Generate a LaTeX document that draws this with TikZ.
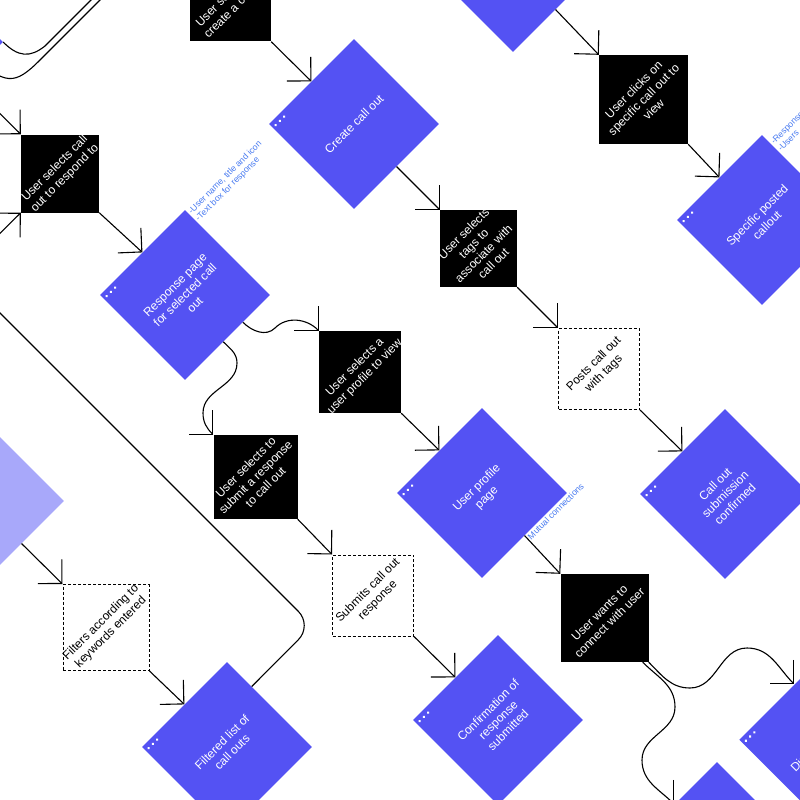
\documentclass[tikz,border=0pt]{standalone}
\usepackage{fontspec}
\setmainfont{Liberation Sans}
\usetikzlibrary{arrows.meta, calc}
\definecolor{scrblue}{RGB}{84,82,243}
\definecolor{paleblue}{RGB}{168,168,250}
\definecolor{noteblue}{RGB}{72,122,240}

\begin{document}
\begin{tikzpicture}[x=1pt, y=1pt,
    >={Straight Barb[length=17pt,width=34pt]},
    flow/.style={->, line width=1.1pt},
    wire/.style={line width=1.1pt},
    screen/.style={rectangle, fill=scrblue, rotate=45, minimum size=120pt, inner sep=0pt, text=white, align=center, font=\fontsize{12}{14}\selectfont},
    choice/.style={rectangle, fill=black, inner sep=0pt},
    outcome/.style={rectangle, draw, dash pattern=on 3pt off 2pt, line width=1pt, inner sep=0pt},
    choicetext/.style={rotate=45, text=white, align=center, font=\fontsize{12}{14}\selectfont},
    outcometext/.style={rotate=45, align=center, font=\fontsize{12}{14}\selectfont},
    note/.style={rotate=45, text=noteblue, align=left, inner sep=1.5pt, font=\fontsize{8.7}{10}\selectfont}]
    \useasboundingbox (0,0) rectangle (800,-800);
    \clip (0,0) rectangle (800,-800);

    \node[screen] (home) at (-82,-42) {};
    \node[screen] (allcalls) at (513,33) {};
    \node[screen] (create) at (354,-124) {Create call out};
    \node[screen] (response) at (185,-295) {Response page\\for selected call\\out};
    \node[screen] (specific) at (762,-220) {Specific posted\\callout};
    \node[screen] (profile) at (482,-493) {User profile\\page};
    \node[screen] (callconfirmed) at (725,-494) {Call out\\submission\\confirmed};
    \node[screen] (responseconfirmed) at (498,-720) {Confirmation of\\response\\submitted};
    \node[screen] (filtered) at (227,-747) {Filtered list of\\call outs};
    \node[screen, fill=paleblue] (search) at (-21,-501) {};
    \node[screen, minimum width=156pt] (dmsg) at (837,-727) {Direct message to user};
    \node[screen] (request) at (717,-847) {};

    \node[choice, minimum size=81pt, label={[choicetext]center:{User selects to\\create a call out}}] (newcall) at (230.5,-1) {};
    \node[choice, minimum size=78pt, label={[choicetext]center:{User selects call\\out to respond to}}] (pickrespond) at (60,-173.5) {};
    \node[choice, minimum size=89pt, label={[choicetext]center:{User clicks on\\specific call out to\\view}}] (clickview) at (643.5,-99.5) {};
    \node[choice, minimum size=77pt, label={[choicetext]center:{User selects\\tags to\\associate with\\call out}}] (picktags) at (478.5,-248.5) {};
    \node[choice, minimum size=82pt, label={[choicetext]center:{User selects a\\user profile to view}}] (pickprofile) at (360,-372) {};
    \node[choice, minimum size=84pt, label={[choicetext]center:{User selects to\\submit a response\\to call out}}] (picksubmit) at (255.5,-477) {};
    \node[choice, minimum size=88pt, label={[choicetext]center:{User wants to\\connect with user}}] (pickconnect) at (604.5,-618) {};

    \node[outcome, minimum size=86pt, label={[outcometext]center:{Filters according to\\keywords entered}}] (filters) at (106,-627.5) {};
    \node[outcome, minimum size=81pt, label={[outcometext]center:{Submits call out\\response}}] (submits) at (373,-595.5) {};
    \node[outcome, minimum size=81pt, label={[outcometext]center:{Posts call out\\with tags}}] (posts) at (599,-369) {};

    \foreach \s in {create, response, specific, profile, callconfirmed, responseconfirmed, filtered, dmsg}{
        \begin{scope}[shift={(\s.north west)}, rotate=45]
            \foreach \d in {4,10,16}
                \fill[white] (\d,-5.5) circle (1.5);
        \end{scope}
    }

    \node[note, anchor=north west] (responsenote) at (response.north east) {-User name, title and icon\\-Text box for response};
    \node[note, anchor=north west] (specificnote) at ($(specific.north east)!8pt!(specific.south east)$) {-Responses\\-Users};
    \node[note, anchor=north west] (profilenote) at (profile.south) {Mutual connections};

    \draw[flow] (newcall.south east) -- (create.north);
    \draw[flow] (create.south) -- (picktags.north west);
    \draw[flow] (picktags.south east) -- (posts.north west);
    \draw[flow] (posts.south east) -- (callconfirmed.north);
    \draw[flow] (allcalls.south) -- (clickview.north west);
    \draw[flow] (clickview.south east) -- (specific.north);
    \draw[flow] (pickrespond.south east) -- (response.north);
    \draw[flow] ($(response.south east)!0.32!(response.south west)$) to[out=-45,in=-135] (275,-328) to[out=45,in=135] (pickprofile.north west);
    \draw[flow] ($(response.south east)!0.55!(response.south west)$) to[out=-45,in=90] (237,-363) to[out=-90,in=90] (203,-413) to[out=-90,in=135] (picksubmit.north west);
    \draw[flow] (pickprofile.south east) -- (profile.north);
    \draw[flow] (profile.south) -- (pickconnect.north west);
    \draw[flow] (pickconnect.south east) to[out=-45,in=180] (690,-688) to[out=0,in=180] (747,-648) to[out=0,in=135] (dmsg.north);
    \draw[flow] ([xshift=-6pt]pickconnect.south east) to[out=-45,in=90] (675,-707) to[out=-90,in=90] (642,-760) to[out=-90,in=135] (request.north);
    \draw[flow] (picksubmit.south east) -- (submits.north west);
    \draw[flow] (submits.south east) -- (responseconfirmed.north);
    \draw[flow] (search.south) -- (filters.north west);
    \draw[flow] (filters.south east) -- (filtered.north);
    \draw[flow, rounded corners=20pt] ($(filtered.north east)!0.29!(filtered.south east)$) -- (312.5,-625.5) -- (-40,-273) -- (pickrespond.south west);

    \coordinate (offleft) at (-30,-84);
    \coordinate (offtopA) at (131,40);
    \coordinate (offtopB) at (140,40);
    \coordinate (offrunB) at (-30,-52);
    \draw[flow] (offleft) -- (pickrespond.north west);
    \draw[wire] (home.south east) .. controls (18,-57) and (30,-58) .. (45,-46) -- (offtopA);
    \draw[wire] (offrunB) .. controls (5,-87) and (15,-85) .. (40,-60) -- (offtopB);
\end{tikzpicture}
\end{document}
